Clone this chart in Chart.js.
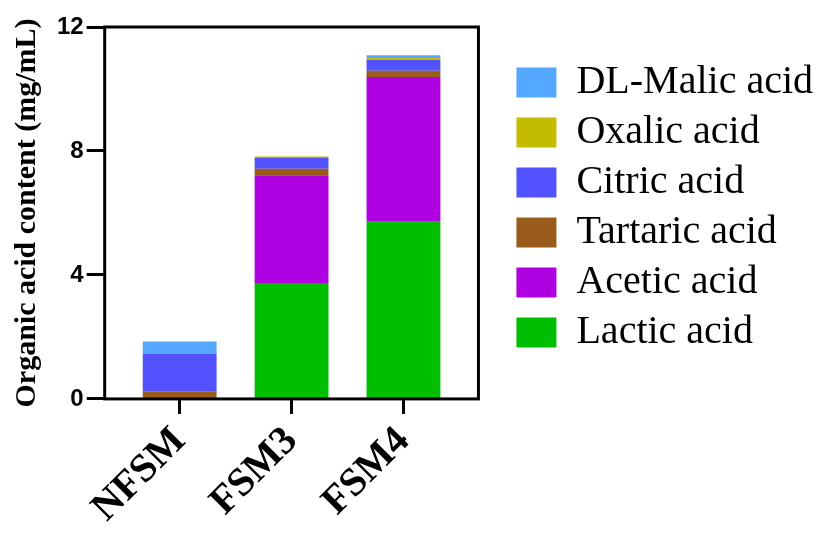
<!DOCTYPE html>
<html>
<head>
<meta charset="utf-8">
<script src="https://cdn.jsdelivr.net/npm/chart.js@4"></script>
<style>
  body { margin: 0; background: #fff; }
</style>
</head>
<body>
<canvas id="chart" width="823" height="536"></canvas>
<script>
const samples = ["NFSM", "FSM3", "FSM4"];
const lactic = [0, 3.74, 5.72];
const acetic = [0, 3.48, 4.67];
const tartaric = [0.23, 0.21, 0.20];
const citric = [1.22, 0.36, 0.35];
const oxalic = [0, 0.03, 0.06];
const malic = [0.40, 0, 0.09];

function toPoints(values) {
    return values.map((v, i) => ({ x: i, y: v }));
}

// box round the plot area
const frame = {
    id: 'frame',
    afterDraw(chart) {
        const a = chart.chartArea;
        const ctx = chart.ctx;
        ctx.save();
        ctx.strokeStyle = '#000';
        ctx.lineWidth = 3;
        ctx.strokeRect(a.left, a.top, a.right - a.left, a.bottom - a.top);
        ctx.restore();
    }
};

new Chart(document.getElementById('chart'), {
    type: 'bar',
    data: {
        datasets: [
            { label: 'Lactic acid', data: toPoints(lactic), backgroundColor: '#00BE00' },
            { label: 'Acetic acid', data: toPoints(acetic), backgroundColor: '#AE00E0' },
            { label: 'Tartaric acid', data: toPoints(tartaric), backgroundColor: '#9A5C1C' },
            { label: 'Citric acid', data: toPoints(citric), backgroundColor: '#5252FF' },
            { label: 'Oxalic acid', data: toPoints(oxalic), backgroundColor: '#C4BC00' },
            { label: 'DL-Malic acid', data: toPoints(malic), backgroundColor: '#55A8FF' }
        ]
    },
    options: {
        responsive: false,
        animation: false,
        barPercentage: 0.66,
        categoryPercentage: 1,
        layout: { padding: { top: 27, left: 9, bottom: 0, right: 0 } },
        plugins: {
            tooltip: { enabled: false },
            legend: {
                position: 'right',
                align: 'start',
                reverse: true,
                maxWidth: 330,
                title: { display: true, text: ' ', font: { size: 12 }, padding: { top: 0, bottom: 11 } },
                labels: {
                    boxWidth: 40,
                    boxHeight: 30,
                    padding: 10,
                    color: '#000',
                    font: { family: 'Liberation Serif', size: 40 }
                }
            }
        },
        scales: {
            x: {
                type: 'linear',
                stacked: true,
                offset: false,
                min: -0.67,
                max: 2.67,
                afterBuildTicks: s => { s.ticks = samples.map((_, i) => ({ value: i })); },
                grid: { offset: false, drawOnChartArea: false, tickLength: 15, tickWidth: 3, tickColor: '#000' },
                border: { display: false },
                ticks: {
                    callback: v => samples[v],
                    minRotation: 45,
                    maxRotation: 45,
                    padding: 4,
                    color: '#000',
                    font: { family: 'Liberation Serif', size: 40, weight: 'bold' }
                }
            },
            y: {
                stacked: true,
                min: 0,
                max: 12,
                grid: { drawOnChartArea: false, tickLength: 18, tickWidth: 3, tickColor: '#000' },
                border: { display: false },
                ticks: {
                    stepSize: 4,
                    padding: 3,
                    color: '#000',
                    font: { family: 'Liberation Sans', size: 24, weight: 'bold' }
                },
                title: {
                    display: true,
                    text: 'Organic acid content (mg/mL)',
                    color: '#000',
                    padding: { top: 0, bottom: 9 },
                    font: { family: 'Liberation Serif', size: 30, weight: 'bold' }
                }
            },
            y2: {
                position: 'right',
                display: true,
                grid: { display: false },
                border: { display: false },
                ticks: { display: false },
                afterFit: s => { s.width = 28; }
            }
        }
    },
    plugins: [frame]
});
</script>
</body>
</html>
